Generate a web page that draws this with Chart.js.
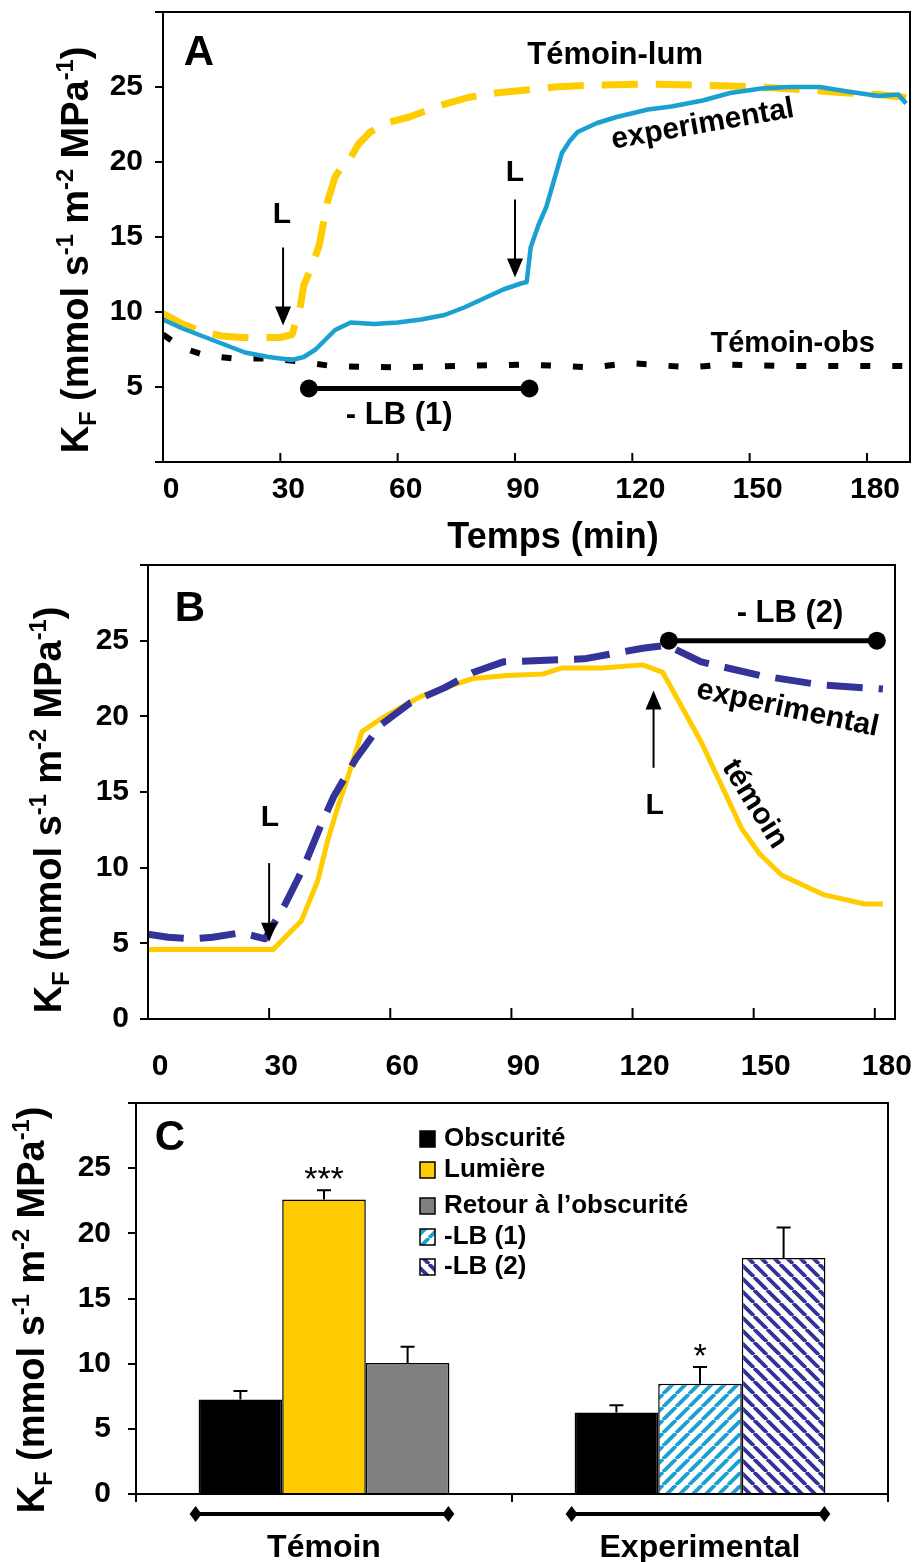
<!DOCTYPE html>
<html lang="fr">
<head>
<meta charset="utf-8">
<title>Conductance hydraulique KF</title>
<script src="https://cdn.jsdelivr.net/npm/chart.js@4.4.1/dist/chart.umd.min.js"></script>
<style>
  body { margin: 0; background: #fff; }
  .panneau { position: absolute; left: 0; width: 913px; }
</style>
</head>
<body>
<div class="panneau" style="top:0;height:560px"><canvas id="grapheA"></canvas></div>
<div class="panneau" style="top:560px;height:535px"><canvas id="grapheB"></canvas></div>
<div class="panneau" style="top:1095px;height:467px"><canvas id="grapheC"></canvas></div>
<script>
const POLICE = '"Liberation Sans", Arial, Helvetica, sans-serif';
const JAUNE = '#FFCC00';
const BLEU = '#1BA0D2';
const MARINE = '#333399';
const GRIS = '#808080';

// Panneau A : cinétiques (min, KF)
const tempsTemoinLumA = [0, 5, 10, 15, 20, 25, 30, 33, 35, 36, 38, 40, 42, 44, 46, 48, 50, 53, 57, 63, 70, 78, 85, 93, 100, 108, 123, 140, 153, 165, 175, 183, 190];
const kfTemoinLumA = [9.9, 9.2, 8.7, 8.4, 8.3, 8.3, 8.3, 8.5, 10.2, 11.8, 13.0, 14.5, 17.3, 19.0, 19.8, 20.3, 21.2, 22.0, 22.6, 23.0, 23.7, 24.3, 24.6, 24.8, 25.0, 25.1, 25.2, 25.1, 25.0, 24.8, 24.6, 24.5, 24.3];

const tempsExpA = [0, 5, 11, 16, 21, 27, 33, 36, 39, 44, 48, 54, 60, 66, 72, 77, 82, 87, 91.5, 93, 94, 96, 98, 100, 102, 104, 106, 111, 116, 124, 130, 138, 145, 153, 160, 168, 175, 183, 188, 190];
const kfExpA = [9.5, 8.9, 8.3, 7.8, 7.3, 7.0, 6.8, 7.0, 7.5, 8.8, 9.3, 9.2, 9.3, 9.5, 9.8, 10.3, 10.9, 11.5, 11.9, 12.0, 14.3, 15.8, 17.0, 18.8, 20.6, 21.4, 22.0, 22.6, 23.0, 23.5, 23.7, 24.1, 24.6, 24.9, 25.0, 25.0, 24.7, 24.4, 24.5, 23.9];

const tempsTemoinObsA = [0, 5, 11, 18, 27, 35, 43, 60, 75, 93, 110, 119, 135, 143, 160, 183, 190];
const kfTemoinObsA = [8.5, 7.6, 7.1, 6.9, 6.9, 6.7, 6.4, 6.3, 6.4, 6.5, 6.3, 6.6, 6.3, 6.5, 6.4, 6.4, 6.4];

// Panneau B
const tempsTemoinB = [0, 31, 38, 42, 44.5, 47, 50, 53, 57.5, 62, 67.5, 73.5, 80.5, 89, 98, 102.5, 112.5, 122.5, 127.5, 137, 147, 151.5, 157, 167.5, 177.5, 182];
const kfTemoinB = [4.6, 4.6, 6.5, 9.1, 11.8, 14.0, 16.4, 19.0, 19.8, 20.5, 21.3, 21.9, 22.5, 22.7, 22.8, 23.2, 23.2, 23.4, 22.9, 18.3, 12.6, 10.9, 9.5, 8.2, 7.6, 7.6];

const tempsExpB = [0, 5, 11, 16, 23, 29, 34, 38.5, 42.5, 46, 51.5, 57.5, 65, 73.5, 80.5, 88, 108, 122.5, 128.5, 137, 151.5, 166, 182];
const kfExpB = [5.6, 5.4, 5.3, 5.4, 5.7, 5.3, 7.6, 10.0, 12.6, 14.7, 17.2, 19.4, 20.9, 21.9, 22.9, 23.6, 23.8, 24.5, 24.7, 23.6, 22.7, 22.1, 21.8];

// Panneau C : moyennes et erreurs standard
const categoriesC = ['Témoin', 'Experimental'];
const kfObscurite = [7.25, 6.25];
const errObscurite = [0.65, 0.55];
const kfLumiere = [22.6, null];
const errLumiere = [0.7, null];
const signifLumiere = ['***', null];
const kfRetour = [10.05, null];
const errRetour = [1.25, null];
const kfLB1 = [null, 8.45];
const errLB1 = [null, 1.3];
const signifLB1 = [null, '*'];
const kfLB2 = [null, 18.1];
const errLB2 = [null, 2.35];

function police(taille, gras = true) {
    return (gras ? 'bold ' : '') + taille + 'px ' + POLICE;
}

function points(temps, valeurs) {
    return temps.map((t, i) => ({ x: t, y: valeurs[i] }));
}

function texte(ctx, chaine, x, y, taille, angle = 0, gras = true) {
    ctx.save();
    ctx.translate(x, y);
    ctx.rotate(angle * Math.PI / 180);
    ctx.font = police(taille, gras);
    ctx.fillStyle = '#000';
    ctx.textAlign = 'center';
    ctx.textBaseline = 'middle';
    ctx.fillText(chaine, 0, 0);
    ctx.restore();
}

// Flèche verticale avec pointe pleine
function fleche(ctx, x, yDepart, yPointe) {
    const sens = yPointe > yDepart ? 1 : -1;
    ctx.save();
    ctx.strokeStyle = '#000';
    ctx.fillStyle = '#000';
    ctx.lineWidth = 2;
    ctx.beginPath();
    ctx.moveTo(x, yDepart);
    ctx.lineTo(x, yPointe - sens * 15);
    ctx.stroke();
    ctx.beginPath();
    ctx.moveTo(x, yPointe);
    ctx.lineTo(x - 8, yPointe - sens * 19);
    ctx.lineTo(x + 8, yPointe - sens * 19);
    ctx.closePath();
    ctx.fill();
    ctx.restore();
}

// Période sans lumière bleue : segment terminé par deux points
function barreLB(ctx, x1, x2, y) {
    ctx.save();
    ctx.strokeStyle = '#000';
    ctx.fillStyle = '#000';
    ctx.lineWidth = 5;
    ctx.beginPath();
    ctx.moveTo(x1, y);
    ctx.lineTo(x2, y);
    ctx.stroke();
    [x1, x2].forEach(x => {
        ctx.beginPath();
        ctx.arc(x, y, 9, 0, Math.PI * 2);
        ctx.fill();
    });
    ctx.restore();
}

// Titre de l'axe Y avec indice et exposants
function titreKf(ctx, xBase, yCentre, taille) {
    const morceaux = [
        { t: 'K', k: 1, dy: 0 },
        { t: 'F', k: 0.62, dy: 0.2 },
        { t: ' (mmol s', k: 1, dy: 0 },
        { t: '-1', k: 0.62, dy: -0.4 },
        { t: ' m', k: 1, dy: 0 },
        { t: '-2', k: 0.62, dy: -0.4 },
        { t: ' MPa', k: 1, dy: 0 },
        { t: '-1', k: 0.62, dy: -0.4 },
        { t: ')', k: 1, dy: 0 }
    ];
    ctx.save();
    ctx.translate(xBase, yCentre);
    ctx.rotate(-Math.PI / 2);
    ctx.fillStyle = '#000';
    ctx.textBaseline = 'alphabetic';
    ctx.textAlign = 'left';
    let total = 0;
    morceaux.forEach(m => {
        ctx.font = police(taille * m.k);
        m.largeur = ctx.measureText(m.t).width;
        total += m.largeur;
    });
    let x = -total / 2;
    morceaux.forEach(m => {
        ctx.font = police(taille * m.k);
        ctx.fillText(m.t, x, m.dy * taille);
        x += m.largeur;
    });
    ctx.restore();
}

function cadre(chart) {
    const { ctx, chartArea: zone } = chart;
    ctx.save();
    ctx.strokeStyle = '#000';
    ctx.lineWidth = 2;
    ctx.strokeRect(zone.left, zone.top, zone.right - zone.left, zone.bottom - zone.top);
    ctx.restore();
}

// Graduations de l'axe X tournées vers l'intérieur
function graduationsInternes(chart, longueur) {
    const { ctx, chartArea: zone, scales: { x } } = chart;
    ctx.save();
    ctx.strokeStyle = '#000';
    ctx.lineWidth = 2;
    x.ticks.forEach(t => {
        const px = x.getPixelForValue(t.value);
        ctx.beginPath();
        ctx.moveTo(px, zone.bottom);
        ctx.lineTo(px, zone.bottom - longueur);
        ctx.stroke();
    });
    ctx.restore();
}

function hachures(couleur, sens) {
    const t = 13;
    const c = document.createElement('canvas');
    c.width = t;
    c.height = t;
    const g = c.getContext('2d');
    g.fillStyle = '#fff';
    g.fillRect(0, 0, t, t);
    g.strokeStyle = couleur;
    g.lineWidth = 3.8;
    g.beginPath();
    for (let k = -1; k <= 1; k++) {
        if (sens > 0) {
            g.moveTo(k * t, t);
            g.lineTo(k * t + t, 0);
        } else {
            g.moveTo(k * t, 0);
            g.lineTo(k * t + t, t);
        }
    }
    g.stroke();
    return g.createPattern(c, 'repeat');
}

function axeY(largeur, padding, afficher) {
    return {
        min: 0,
        max: 30,
        ticks: {
            stepSize: 5,
            padding: padding,
            color: '#000',
            font: { family: POLICE, size: 30, weight: 'bold' },
            callback: v => afficher(v) ? v : ''
        },
        grid: { drawOnChartArea: false, tickLength: 8, color: '#000', lineWidth: 2 },
        border: { display: false },
        afterFit: s => { s.width = largeur; s.paddingTop = 0; s.paddingBottom = 0; }
    };
}

function optionsCourbes(cfg) {
    return {
        responsive: true,
        maintainAspectRatio: false,
        animation: false,
        layout: { padding: { top: cfg.haut, right: cfg.droite, left: 0, bottom: 0 } },
        plugins: { legend: { display: false }, tooltip: { enabled: false } },
        elements: { point: { radius: 0 }, line: { tension: 0, borderJoinStyle: 'round' } },
        scales: {
            x: {
                type: 'linear',
                min: 0,
                max: cfg.xMax,
                ticks: {
                    stepSize: 30,
                    includeBounds: false,
                    padding: cfg.padX,
                    labelOffset: cfg.decalX,
                    maxRotation: 0,
                    color: '#000',
                    font: { family: POLICE, size: 30, weight: 'bold' }
                },
                grid: { display: false },
                border: { display: false },
                afterFit: s => { s.height = cfg.hautAxeX; s.paddingLeft = 0; s.paddingRight = 0; }
            },
            y: axeY(cfg.largeurAxeY, cfg.padY, cfg.etiquettesY)
        }
    };
}

const extrasA = {
    id: 'extrasA',
    afterDraw(chart) {
        const { ctx, chartArea: zone, scales: { x, y } } = chart;
        cadre(chart);
        graduationsInternes(chart, 9);
        titreKf(ctx, 88, 250, 38);
        texte(ctx, 'Temps (min)', zone.left + 390, 538, 36);
        texte(ctx, 'A', zone.left + 36, zone.top + 41, 42);
        texte(ctx, 'Témoin-lum', x.getPixelForValue(115.6), y.getPixelForValue(27.1), 31);
        texte(ctx, 'experimental', x.getPixelForValue(138), y.getPixelForValue(22.5), 30, -10);
        texte(ctx, 'Témoin-obs', x.getPixelForValue(161), y.getPixelForValue(7.9), 29);
        texte(ctx, '- LB (1)', x.getPixelForValue(60.4), y.getPixelForValue(3.07), 31);
        barreLB(ctx, x.getPixelForValue(37.3), x.getPixelForValue(93.7), y.getPixelForValue(4.9));
        texte(ctx, 'L', x.getPixelForValue(30.4), y.getPixelForValue(16.5), 30);
        fleche(ctx, x.getPixelForValue(30.7), y.getPixelForValue(14.3), y.getPixelForValue(9.1));
        texte(ctx, 'L', x.getPixelForValue(90), y.getPixelForValue(19.3), 30);
        fleche(ctx, x.getPixelForValue(90), y.getPixelForValue(17.5), y.getPixelForValue(12.3));
    }
};

const extrasB = {
    id: 'extrasB',
    afterDraw(chart) {
        const { ctx, chartArea: zone, scales: { x, y } } = chart;
        cadre(chart);
        graduationsInternes(chart, 11);
        titreKf(ctx, 61, 250, 38);
        texte(ctx, 'B', zone.left + 42, zone.top + 44, 42);
        texte(ctx, '- LB (2)', x.getPixelForValue(159), y.getPixelForValue(26.8), 31);
        barreLB(ctx, x.getPixelForValue(129), x.getPixelForValue(180.5), y.getPixelForValue(25));
        texte(ctx, 'experimental', x.getPixelForValue(158.4), y.getPixelForValue(20.5), 30, 12);
        texte(ctx, 'témoin', x.getPixelForValue(150.2), y.getPixelForValue(14.2), 30, 58);
        texte(ctx, 'L', x.getPixelForValue(30.2), y.getPixelForValue(13.3), 30);
        fleche(ctx, x.getPixelForValue(30), y.getPixelForValue(10.3), y.getPixelForValue(5.1));
        texte(ctx, 'L', x.getPixelForValue(125.5), y.getPixelForValue(14.1), 30);
        fleche(ctx, x.getPixelForValue(125.2), y.getPixelForValue(16.6), y.getPixelForValue(21.7));
    }
};

// Hauteurs des lignes de légende du panneau C (px depuis le haut du canevas)
const lignesLegendeC = [44, 75, 111, 142, 172];

const extrasC = {
    id: 'extrasC',
    afterDatasetsDraw(chart) {
        const { ctx, scales: { y } } = chart;
        // Barres d'erreur (vers le haut seulement) et astérisques
        chart.data.datasets.forEach((ds, i) => {
            const meta = chart.getDatasetMeta(i);
            meta.data.forEach((barre, j) => {
                if (ds.data[j] == null) return;
                const yHaut = y.getPixelForValue(ds.data[j] + ds.erreurs[j]);
                ctx.save();
                ctx.strokeStyle = '#000';
                ctx.lineWidth = 2;
                ctx.beginPath();
                ctx.moveTo(barre.x, barre.y);
                ctx.lineTo(barre.x, yHaut);
                ctx.moveTo(barre.x - 7, yHaut);
                ctx.lineTo(barre.x + 7, yHaut);
                ctx.stroke();
                if (ds.signif && ds.signif[j]) {
                    ctx.font = police(34, false);
                    ctx.fillStyle = '#000';
                    ctx.textAlign = 'center';
                    ctx.textBaseline = 'alphabetic';
                    ctx.fillText(ds.signif[j], barre.x, yHaut);
                }
                ctx.restore();
            });
        });
    },
    afterDraw(chart) {
        const { ctx, chartArea: zone } = chart;
        cadre(chart);
        titreKf(ctx, 44, 215, 38);
        texte(ctx, 'C', zone.left + 34, zone.top + 35, 42);

        // Légende
        chart.data.datasets.forEach((ds, i) => {
            const yc = lignesLegendeC[i];
            const xb = zone.left + 284;
            ctx.save();
            ctx.fillStyle = ds.backgroundColor;
            ctx.fillRect(xb, yc - 8, 15, 16);
            ctx.strokeStyle = '#000';
            ctx.lineWidth = 1.5;
            ctx.strokeRect(xb, yc - 8, 15, 16);
            ctx.font = police(26);
            ctx.fillStyle = '#000';
            ctx.textAlign = 'left';
            ctx.textBaseline = 'middle';
            ctx.fillText(ds.label, xb + 24, yc);
            ctx.restore();
        });

        // Traits à losanges sous chaque groupe de barres
        chart.data.labels.forEach((lab, j) => {
            let g = Infinity, d = -Infinity;
            chart.data.datasets.forEach((ds, i) => {
                if (ds.data[j] == null) return;
                const b = chart.getDatasetMeta(i).data[j];
                g = Math.min(g, b.x - b.width / 2);
                d = Math.max(d, b.x + b.width / 2);
            });
            const yl = zone.bottom + 20;
            ctx.save();
            ctx.strokeStyle = '#000';
            ctx.fillStyle = '#000';
            ctx.lineWidth = 4;
            ctx.beginPath();
            ctx.moveTo(g - 3, yl);
            ctx.lineTo(d - 1, yl);
            ctx.stroke();
            [g - 3, d - 1].forEach(px => {
                ctx.beginPath();
                ctx.moveTo(px - 6, yl);
                ctx.lineTo(px, yl - 8);
                ctx.lineTo(px + 6, yl);
                ctx.lineTo(px, yl + 8);
                ctx.closePath();
                ctx.fill();
            });
            ctx.restore();
        });
    }
};

new Chart(document.getElementById('grapheA'), {
    type: 'line',
    data: {
        datasets: [
            { label: 'experimental', data: points(tempsExpA, kfExpA), borderColor: BLEU, borderWidth: 4.5 },
            { label: 'Témoin-lum', data: points(tempsTemoinLumA, kfTemoinLumA), borderColor: JAUNE, borderWidth: 7, borderDash: [36, 18] },
            { label: 'Témoin-obs', data: points(tempsTemoinObsA, kfTemoinObsA), borderColor: '#000', borderWidth: 6, borderDash: [10, 22] }
        ]
    },
    options: optionsCourbes({
        haut: 12, droite: 3, xMax: 191, padX: 2, decalX: 8, hautAxeX: 98,
        largeurAxeY: 163, padY: 12, etiquettesY: v => v > 0 && v < 30
    }),
    plugins: [extrasA]
});

new Chart(document.getElementById('grapheB'), {
    type: 'line',
    data: {
        datasets: [
            { label: 'experimental', data: points(tempsExpB, kfExpB), borderColor: MARINE, borderWidth: 7, borderDash: [36, 16] },
            { label: 'témoin', data: points(tempsTemoinB, kfTemoinB), borderColor: JAUNE, borderWidth: 5 }
        ]
    },
    options: optionsCourbes({
        haut: 5, droite: 18, xMax: 185, padX: 22, decalX: 12, hautAxeX: 76,
        largeurAxeY: 148, padY: 11, etiquettesY: v => v < 30
    }),
    plugins: [extrasB]
});

new Chart(document.getElementById('grapheC'), {
    type: 'bar',
    data: {
        labels: categoriesC,
        datasets: [
            { label: 'Obscurité', data: kfObscurite, erreurs: errObscurite, backgroundColor: '#000' },
            { label: 'Lumière', data: kfLumiere, erreurs: errLumiere, signif: signifLumiere, backgroundColor: JAUNE },
            { label: 'Retour à l’obscurité', data: kfRetour, erreurs: errRetour, backgroundColor: GRIS },
            { label: '-LB (1)', data: kfLB1, erreurs: errLB1, signif: signifLB1, backgroundColor: hachures(BLEU, 1) },
            { label: '-LB (2)', data: kfLB2, erreurs: errLB2, backgroundColor: hachures(MARINE, -1) }
        ]
    },
    options: {
        responsive: true,
        maintainAspectRatio: false,
        animation: false,
        layout: { padding: { top: 8, right: 25, left: 0, bottom: 0 } },
        plugins: { legend: { display: false }, tooltip: { enabled: false } },
        datasets: {
            bar: { skipNull: true, barPercentage: 1, categoryPercentage: 0.667, borderColor: '#000', borderWidth: 1.5 }
        },
        scales: {
            x: {
                ticks: { padding: 27, color: '#000', font: { family: POLICE, size: 32, weight: 'bold' } },
                grid: { drawOnChartArea: false, tickLength: 8, color: '#000', lineWidth: 2 },
                border: { display: false },
                afterFit: s => { s.height = 68; s.paddingLeft = 0; s.paddingRight = 0; }
            },
            y: axeY(136, 17, v => v < 30)
        }
    },
    plugins: [extrasC]
});
</script>
</body>
</html>
